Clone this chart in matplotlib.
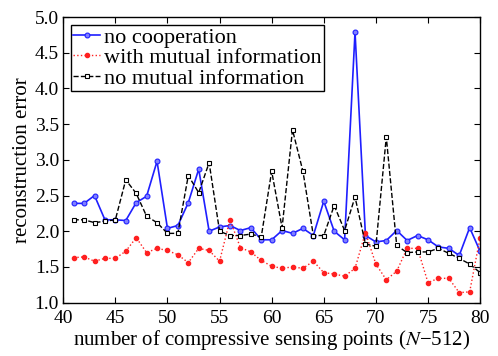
# reconstruction error vs number of compressive sensing points
import numpy as np
import matplotlib.pyplot as plt

points = np.arange(41, 81)

no_coop = [2.39, 2.39, 2.50, 2.16, 2.16, 2.15, 2.40, 2.49, 2.98, 2.04,
           2.08, 2.40, 2.87, 2.00, 2.06, 2.08, 2.01, 2.05, 1.88, 1.88,
           2.01, 1.97, 2.04, 1.94, 2.42, 2.00, 1.88, 4.79, 1.94, 1.85,
           1.87, 2.01, 1.87, 1.94, 1.88, 1.78, 1.76, 1.66, 2.05, 1.72]

with_mi = [1.63, 1.64, 1.58, 1.62, 1.62, 1.72, 1.91, 1.70, 1.76, 1.73,
           1.67, 1.56, 1.76, 1.73, 1.58, 2.16, 1.77, 1.71, 1.59, 1.51,
           1.48, 1.50, 1.48, 1.58, 1.42, 1.40, 1.37, 1.48, 1.98, 1.54,
           1.32, 1.44, 1.76, 1.76, 1.28, 1.34, 1.34, 1.14, 1.15, 1.91]

no_mi = [2.16, 2.16, 2.12, 2.14, 2.16, 2.72, 2.53, 2.21, 2.12, 1.97,
         1.97, 2.78, 2.54, 2.96, 2.00, 1.94, 1.94, 1.96, 1.92, 2.84,
         2.05, 3.42, 2.84, 1.94, 1.94, 2.36, 2.01, 2.48, 1.82, 1.79,
         3.32, 1.80, 1.70, 1.71, 1.71, 1.76, 1.69, 1.62, 1.54, 1.42]

plt.rcParams['font.family'] = ['Liberation Serif', 'DejaVu Serif']
plt.rcParams['font.size'] = 15
plt.rcParams['mathtext.fontset'] = 'stix'

fig = plt.figure(figsize=(4.98, 3.56), dpi=100)
ax = fig.add_axes([0.127, 0.150, 0.837, 0.802])

ax.plot(points, no_coop, 'o-', color='#1f1fff', lw=1.2, ms=3.5,
        mfc='#8080ff', mec='#1f1fff', mew=0.8, label='no cooperation')
ax.plot(points, with_mi, 'o:', color='#ff2020', lw=1.0, ms=3,
        label='with mutual information')
ax.plot(points, no_mi, 's--', color='black', lw=1.0, ms=3,
        mfc='white', mec='black', mew=0.8, label='no mutual information')

ax.set_xlim(40, 80)
ax.set_ylim(1.0, 5.0)
ax.set_xticks(np.arange(40, 81, 5))
ax.set_yticks(np.arange(1.0, 5.01, 0.5))
ax.yaxis.set_major_formatter(plt.FormatStrFormatter('%.1f'))
ax.tick_params(direction='in', top=True, right=True, length=4, labelsize=14)
ax.tick_params(axis='x', pad=5)
ax.tick_params(axis='y', pad=3)
for s in ax.spines.values():
    s.set_linewidth(1.0)

ax.set_xlabel('number of compressive sensing points ($N$\u2212512)', labelpad=1)
ax.set_ylabel('reconstruction error', labelpad=2)

leg = ax.legend(loc='upper left', fancybox=False, edgecolor='black',
                framealpha=1, borderpad=0.1, labelspacing=0.0,
                handlelength=1.2, handletextpad=0.2, borderaxespad=0.35,
                fontsize=16)
leg.get_frame().set_linewidth(1.0)

fig.savefig('out.png', dpi=100)
